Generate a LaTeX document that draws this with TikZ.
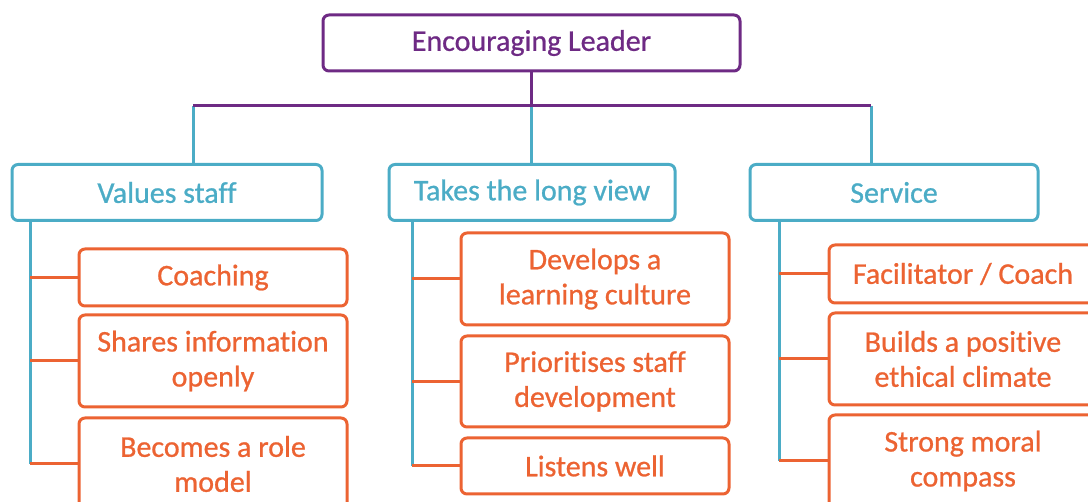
\documentclass[tikz,border=0pt]{standalone}
\usepackage{fontspec}
\setmainfont{Carlito}[Ligatures=NoCommon, FakeBold=0.8]
\usetikzlibrary{positioning}
\usepackage{xcolor}

\definecolor{leaderpurple}{HTML}{6E2A84}
\definecolor{branchteal}{HTML}{4BACC6}
\definecolor{itemorange}{HTML}{EC6332}

\tikzset{
    box/.style={draw, rounded corners=6pt, line width=3pt, align=center,
        inner sep=0pt, font=\fontsize{30}{35}\selectfont},
    leaderbox/.style={box, draw=leaderpurple, text=leaderpurple,
        minimum width=417pt, minimum height=56pt},
    groupbox/.style={box, draw=branchteal, text=branchteal, minimum height=56pt},
    itembox/.style={box, draw=itemorange, text=itemorange, minimum width=268pt},
    purpleline/.style={draw=leaderpurple, line width=3pt},
    tealline/.style={draw=branchteal, line width=3pt},
    itemline/.style={draw=itemorange, line width=3pt}
}

\begin{document}
\begin{tikzpicture}[x=1pt, y=-1pt]
    \useasboundingbox (0,0) rectangle (1088,502);

    % Top box
    \node[leaderbox] (leader) at (531.5,43) {Encouraging Leader};

    % Group boxes
    \node[groupbox, minimum width=310pt] (values) at (167,192.5) {Values staff};
    \node[groupbox, minimum width=286pt] (longview) at (532,192.5) {Takes the long view};
    \node[groupbox, minimum width=288pt] (service) at (894,192.5) {Service};

    % Items under each group
    \node[itembox, minimum height=57pt] (coaching) at (213,277.5) {Coaching};
    \node[itembox, minimum height=92pt] (shares) at (213,361) {Shares information\\openly};
    \node[itembox, minimum height=92pt] (rolemodel) at (213,464) {Becomes a role\\model};

    \node[itembox, minimum height=92pt] (culture) at (595,279) {Develops a\\learning culture};
    \node[itembox, minimum height=91pt] (staffdev) at (595,381.5) {Prioritises staff\\development};
    \node[itembox, minimum height=56pt] (listens) at (595,466) {Listens well};

    \node[itembox, minimum height=58pt] (facilitator) at (963,274) {Facilitator / Coach};
    \node[itembox, minimum height=92pt] (climate) at (963,359) {Builds a positive\\ethical climate};
    \node[itembox, minimum height=92pt] (compass) at (963,461) {Strong moral\\compass};

    % Bus from the top box down to the groups
    \coordinate (bus) at (531.5,106);
    \coordinate (busleft) at (193,106);
    \coordinate (busright) at (871,106);
    \draw[tealline] (busleft) -- (busleft |- values.north);
    \draw[tealline] (bus) -- (bus |- longview.north);
    \draw[tealline] (busright) -- (busright |- service.north);
    \draw[purpleline] (leader) -- (bus);
    \draw[purpleline] (busleft) -- (busright);

    % Trunks and stubs
    \coordinate (valtrunk) at (30,220);
    \coordinate (longtrunk) at (412,221);
    \coordinate (servtrunk) at (779,221);
    \draw[tealline] (valtrunk) -- (valtrunk |- rolemodel.west);
    \draw[tealline] (longtrunk) -- (longtrunk |- listens.west);
    \draw[tealline] (servtrunk) -- (servtrunk |- compass.west);
    \foreach \item in {coaching,shares,rolemodel}
        \draw[itemline] (valtrunk |- \item.west) -- (\item.west);
    \foreach \item in {culture,staffdev,listens}
        \draw[itemline] (longtrunk |- \item.west) -- (\item.west);
    \foreach \item in {facilitator,climate,compass}
        \draw[itemline] (servtrunk |- \item.west) -- (\item.west);
\end{tikzpicture}
\end{document}
